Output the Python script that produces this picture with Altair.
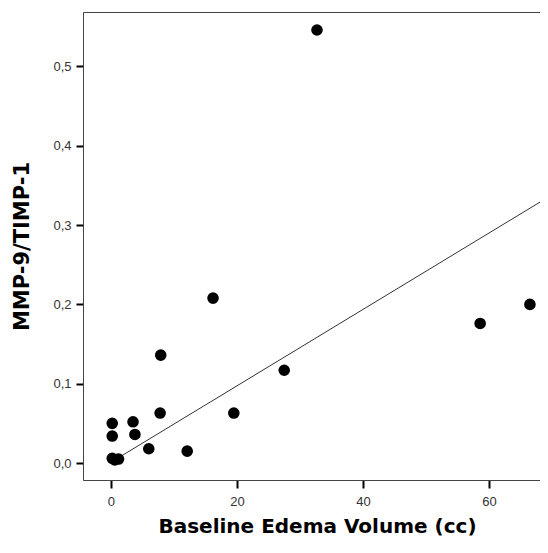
import altair as alt
import pandas as pd

# Scatter data
edema_cc = [0.2, 0.2, 0.2, 0.6, 1.2, 3.5, 3.8, 6.0, 7.8, 7.9, 12.1, 16.2, 19.5, 27.5, 32.7, 58.6, 66.5]
mmp_ratio = [0.050, 0.034, 0.006, 0.004, 0.005, 0.052, 0.036, 0.018, 0.063, 0.136, 0.015, 0.208, 0.063, 0.117, 0.546, 0.176, 0.200]

# Fit line end points
fit_x = [0.0, 68.1]
fit_y = [0.001, 0.329]

x_ticks = [0, 20, 40, 60]
y_ticks = [0.0, 0.1, 0.2, 0.3, 0.4, 0.5]

pts = pd.DataFrame({"x": edema_cc, "y": mmp_ratio})
fit = pd.DataFrame({"x": fit_x, "y": fit_y})

xscale = alt.Scale(domain=[-4.44, 68.1], nice=False, zero=False)
yscale = alt.Scale(domain=[-0.0214, 0.5687], nice=False, zero=False)

font = "Liberation Sans"
tfont = "DejaVu Sans"

points = alt.Chart(pts).mark_circle(size=135, color="black", opacity=1).encode(
    x=alt.X("x:Q", scale=xscale,
            axis=alt.Axis(values=x_ticks, title="Baseline Edema Volume (cc)",
                          grid=False, tickSize=8, tickWidth=2, tickColor="black",
                          domainColor="#444", domainWidth=1,
                          labelFont=font, labelFontSize=13, labelColor="#333", labelPadding=7,
                          titleFont=tfont, titleFontSize=20, titleFontWeight="bold",
                          titleColor="black", titleX=234, titleY=52, titleBaseline="alphabetic")),
    y=alt.Y("y:Q", scale=yscale,
            axis=alt.Axis(values=y_ticks, title="MMP-9/TIMP-1",
                          labelExpr="replace(format(datum.value, '.1f'), '.', ',')",
                          grid=False, tickSize=7, tickWidth=2, tickColor="black",
                          domainColor="#444", domainWidth=1,
                          labelFont=font, labelFontSize=13, labelColor="#333", labelPadding=5,
                          titleFont=tfont, titleFontSize=21, titleFontWeight="bold",
                          titleColor="black", titleX=-61, titleY=234,
                          titleAlign="center", titleBaseline="middle")),
)

line = alt.Chart(fit).mark_line(color="#333", strokeWidth=1).encode(
    x=alt.X("x:Q", scale=xscale,
            axis=alt.Axis(orient="top", labels=False, ticks=False, title=None,
                          grid=False, domainColor="#444", domainWidth=1)),
    y=alt.Y("y:Q", scale=yscale),
)

chart = alt.layer(line, points).resolve_axis(x="independent").properties(
    width=457, height=468,
    autosize=alt.AutoSizeParams(type="none"),
    padding={"left": 75, "top": 4, "right": 0, "bottom": 60},
).configure_view(stroke=None).configure(background="white")

chart.save("out.html", embed_options={"renderer": "svg", "actions": False})
